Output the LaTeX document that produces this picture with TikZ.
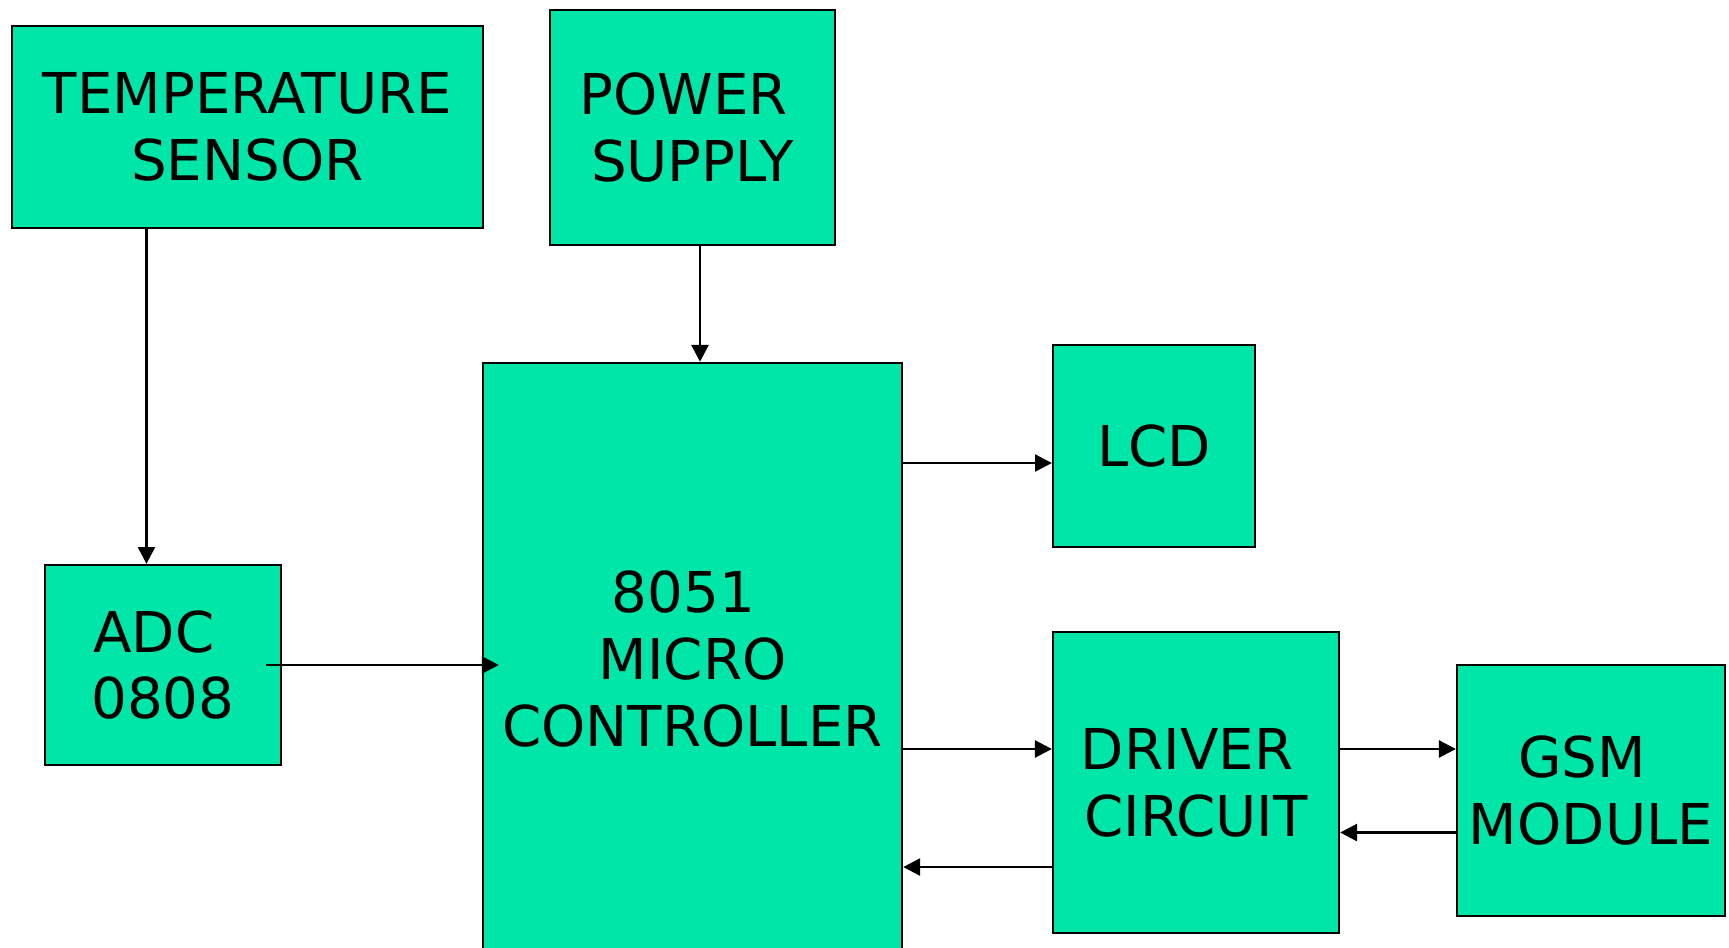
\documentclass[tikz,border=0pt]{standalone}
\usepackage{fontspec}
\setmainfont{DejaVu Sans}
\usetikzlibrary{arrows.meta}
\definecolor{blockgreen}{RGB}{0,229,168}
\newcommand{\trailsp}{\hspace*{0.318em}}

\begin{document}
\begin{tikzpicture}[x=0.01cm,y=-0.01cm,
    block/.style={draw, line width=0.6pt, fill=blockgreen, align=center, inner sep=0pt,
                  font=\fontsize{16}{19}\selectfont},
    link/.style={line width=0.8pt, -{Triangle[length=4.8pt,width=4.8pt]}}]
                        \useasboundingbox (0,0) rectangle (1729,948);

                        % Nodes
                        \node[block, minimum width=4.71cm, minimum height=2.02cm] (temp) at (247.5,127) {TEMPERATURE\\SENSOR};
                        \node[block, minimum width=2.85cm, minimum height=2.35cm] (power) at (692.5,127.5) {POWER\trailsp\\SUPPLY};
                        \node[block, minimum width=4.19cm, minimum height=5.92cm] (mcu) at (692.5,659) {8051\trailsp\\MICRO\\CONTROLLER};
                        \node[block, minimum width=2.02cm, minimum height=2.02cm] (lcd) at (1154,446) {LCD};
                        \node[block, minimum width=2.36cm, minimum height=2.00cm] (adc) at (163,665) {ADC\trailsp\\0808};
                        \node[block, minimum width=2.86cm, minimum height=3.01cm] (driver) at (1196,782.5) {DRIVER\trailsp\\CIRCUIT};
                        \node[block, minimum width=2.68cm, minimum height=2.51cm] (gsm) at (1591,790.5) {GSM\trailsp\\MODULE};

                        % Connector ends
                        \coordinate (adcin) at ([xshift=-0.165cm]adc.north);
                        \coordinate (pwrout) at ([xshift=0.075cm]power.south);
                        \coordinate (lcdin) at ([yshift=-0.17cm]lcd.west);
                        \coordinate (drvin) at ([yshift=0.335cm]driver.west);
                        \coordinate (drvout) at ([yshift=-0.845cm]driver.west);
                        \coordinate (gsmin) at ([yshift=0.415cm]gsm.west);
                        \coordinate (gsmout) at ([yshift=-0.42cm]gsm.west);

                        % Edges
                        \draw[link] (temp.south -| adcin) -- (adcin);
                        \draw[link] (pwrout) -- (mcu.north -| pwrout);
                        \draw[link] ([xshift=-0.16cm]adc.east) -- ([xshift=0.17cm]mcu.west |- adc.east);
                        \draw[link] (mcu.east |- lcdin) -- (lcdin);
                        \draw[link] (mcu.east |- drvin) -- (drvin);
                        \draw[link] (drvout) -- (mcu.east |- drvout);
                        \draw[link] (driver.east |- gsmin) -- (gsmin);
                        \draw[link] (gsmout) -- (driver.east |- gsmout);
                    \end{tikzpicture}
\end{document}
